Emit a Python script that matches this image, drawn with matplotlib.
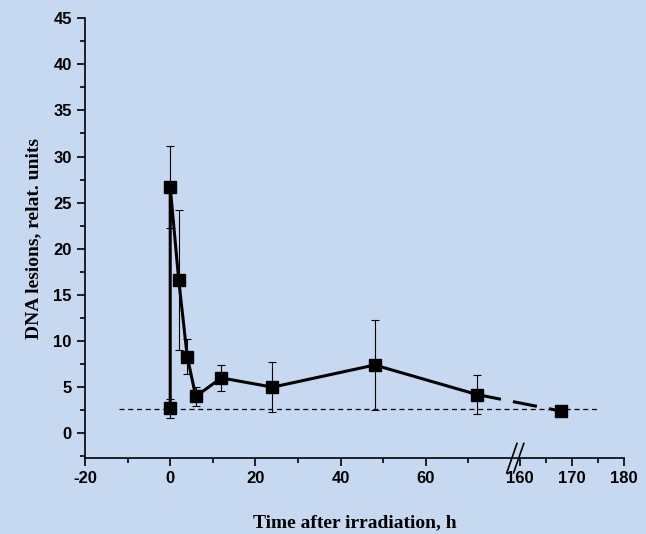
import numpy as np
import matplotlib.pyplot as plt

# data
hours = [0, 0, 2, 4, 6, 12, 24, 48, 72, 168]
lesions = [2.7, 26.7, 16.6, 8.3, 4.0, 6.0, 5.0, 7.4, 4.2, 2.4]
err_up = [1.0, 4.4, 7.6, 1.9, 1.0, 1.4, 2.7, 4.9, 2.1, 0.3]
err_dn = [1.0, 4.4, 7.6, 1.9, 1.0, 1.4, 2.7, 4.9, 2.1, 0.3]
control_level = 2.6

BREAK = 81.0
SCALE = 5.2 / 4.25


def tx(x):
    x = np.asarray(x, dtype=float)
    return np.where(x <= 100, x, 82 + (x - 160) * SCALE)


bg = "#C6D9F0"
fig = plt.figure(figsize=(6.46, 5.34), dpi=100, facecolor=bg)
ax = fig.add_axes([0.1316, 0.142, 0.834, 0.824], facecolor=bg)

xs = tx(hours)
ax.errorbar(xs, lesions, yerr=[err_dn, err_up], fmt="none", ecolor="black",
            elinewidth=0.8, capsize=3, capthick=0.8, zorder=2)
ax.plot(xs[:-1], lesions[:-1], color="black", lw=2.2, zorder=3)
ax.plot(xs[-2:], lesions[-2:], color="black", lw=2.2, dashes=[8, 4], zorder=3)
ax.plot(xs, lesions, "s", color="black", ms=8, zorder=4)
ax.plot(tx([-12, 175]), [control_level] * 2, "k--", lw=0.9, dashes=[4, 3], zorder=1)

ax.set_xlim(-20, float(tx(180)))
ax.set_ylim(-2.7, 45)
major = [-20, 0, 20, 40, 60, 160, 170, 180]
minor = [-10, 10, 30, 50, 70, 165, 175]
ax.set_xticks(tx(major))
ax.set_xticklabels([str(v) for v in major])
ax.set_xticks(tx(minor), minor=True)
ax.set_yticks(np.arange(0, 46, 5))
ax.set_yticks(np.arange(-2.5, 45, 5), minor=True)

for s in ["top", "right"]:
    ax.spines[s].set_visible(False)
for s in ["left", "bottom"]:
    ax.spines[s].set_linewidth(1.2)
ax.tick_params(which="major", direction="out", length=6, width=1.2,
               labelsize=12)
ax.tick_params(which="minor", direction="out", length=3.5, width=1.2)
for lab in ax.get_xticklabels() + ax.get_yticklabels():
    lab.set_fontfamily("Liberation Sans")
    lab.set_fontweight("bold")

# axis break marks
bx = float(tx(BREAK))
for off in (-0.8, 0.8):
    ax.plot([bx + off - 1.2, bx + off + 1.2], [-4.3, -1.1], color="black",
            lw=1.2, clip_on=False, zorder=5)

ax.set_xlabel("Time after irradiation, h", fontfamily="Liberation Serif",
              fontweight="bold", fontsize=14, labelpad=20)
ax.set_ylabel("DNA lesions, relat. units", fontfamily="Liberation Serif",
              fontweight="bold", fontsize=14, labelpad=8)

fig.savefig("out.png", dpi=100, facecolor=bg)
